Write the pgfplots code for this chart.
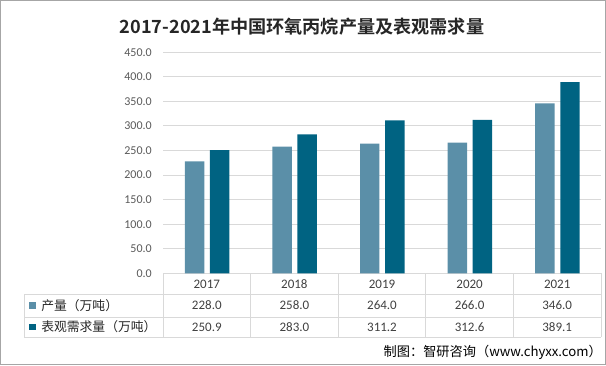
\documentclass[border=0pt]{standalone}
\usepackage{pgfplots}
\pgfplotsset{compat=1.18}
\usepackage{fontspec}
\setmainfont{Carlito}
\newfontfamily\cjk{Noto Sans CJK SC}
\newfontfamily\cjkb{Noto Sans CJK SC Bold}
\definecolor{lightbar}{HTML}{5B8FA8}
\definecolor{darkbar}{HTML}{006382}
\definecolor{gridc}{HTML}{D9D9D9}
\definecolor{ticktxt}{HTML}{595959}
\definecolor{tabtxt}{HTML}{404040}
\begin{document}
\begin{tikzpicture}
\begin{scope}[x=0.75pt,y=-0.75pt]
\useasboundingbox (0,0) rectangle (606,365);
\draw[color=gray!70, line width=0.75pt] (0.5,0.5) rectangle (605.5,364.5);
\node[font=\cjkb\fontsize{13.6pt}{16pt}\selectfont, text=black!85] at (302,27) {2017-2021年中国环氧丙烷产量及表观需求量};
% table lines
\draw[color=gridc, line width=0.75pt] (163,273.3) -- (601,273.3);
\draw[color=gridc, line width=0.75pt] (24,294) -- (601,294);
\draw[color=gridc, line width=0.75pt] (24,317) -- (601,317);
\draw[color=gridc, line width=0.75pt] (24,337) -- (601,337);
\draw[color=gridc, line width=0.75pt] (24,294) -- (24,337);
\foreach \xx in {163,250.6,338.2,425.8,513.4,601} {
  \draw[color=gridc, line width=0.75pt] (\xx,273.3) -- (\xx,337);
}
% legend squares and row labels
\fill[lightbar] (29,302) rectangle (35.5,308.5);
\fill[darkbar] (29,323.5) rectangle (35.5,330);
\node[anchor=west, inner sep=0pt, font=\cjk\fontsize{9.6pt}{11pt}\selectfont, text=black!85] at (41,305.5) {产量（万吨）};
\node[anchor=west, inner sep=0pt, font=\cjk\fontsize{9.6pt}{11pt}\selectfont, text=black!85] at (41,327) {表观需求量（万吨）};
% header and values
\foreach \yr/\a/\b [count=\i from 0] in {2017/228.0/250.9, 2018/258.0/283.0, 2019/264.0/311.2, 2020/266.0/312.6, 2021/346.0/389.1} {
  \pgfmathsetmacro{\cx}{163+87.6*(\i+0.5)}
  \node[font=\fontsize{9.75pt}{11pt}\selectfont, text=tabtxt, inner sep=0pt] at (\cx,284) {\yr};
  \node[font=\fontsize{9.75pt}{11pt}\selectfont, text=tabtxt, inner sep=0pt] at (\cx,305.5) {\a};
  \node[font=\fontsize{9.75pt}{11pt}\selectfont, text=tabtxt, inner sep=0pt] at (\cx,327) {\b};
}
\node[anchor=east, inner sep=0pt, font=\cjk\fontsize{9.9pt}{12pt}\selectfont, text=black] at (602,352) {制图：智研咨询（www.chyxx.com）};
\end{scope}
\begin{axis}[
  at={(122.25pt,-204.975pt)}, anchor=south west,
  scale only axis, width=328.5pt, height=165.75pt,
  xmin=-0.5, xmax=4.5, ymin=0, ymax=450,
  axis line style={draw=none},
  xtick=\empty,
  ytick={0,50,...,450},
  ymajorgrids, grid style={color=gridc, line width=0.75pt},
  major tick length=0pt,
  yticklabel style={anchor=east, inner sep=0pt, xshift=-8.25pt, font=\fontsize{9pt}{10pt}\selectfont, text=ticktxt,
    /pgf/number format/.cd, fixed, fixed zerofill, precision=1, assume math mode=true},
  clip=false,
]
\addplot[ybar, bar width=14.6pt, bar shift=-9.2pt, fill=lightbar, draw=none] coordinates {(0,228.0) (1,258.0) (2,264.0) (3,266.0) (4,346.0)};
\addplot[ybar, bar width=14.6pt, bar shift=9.6pt, fill=darkbar, draw=none] coordinates {(0,250.9) (1,283.0) (2,311.2) (3,312.6) (4,389.1)};
\end{axis}
\end{tikzpicture}
\end{document}
